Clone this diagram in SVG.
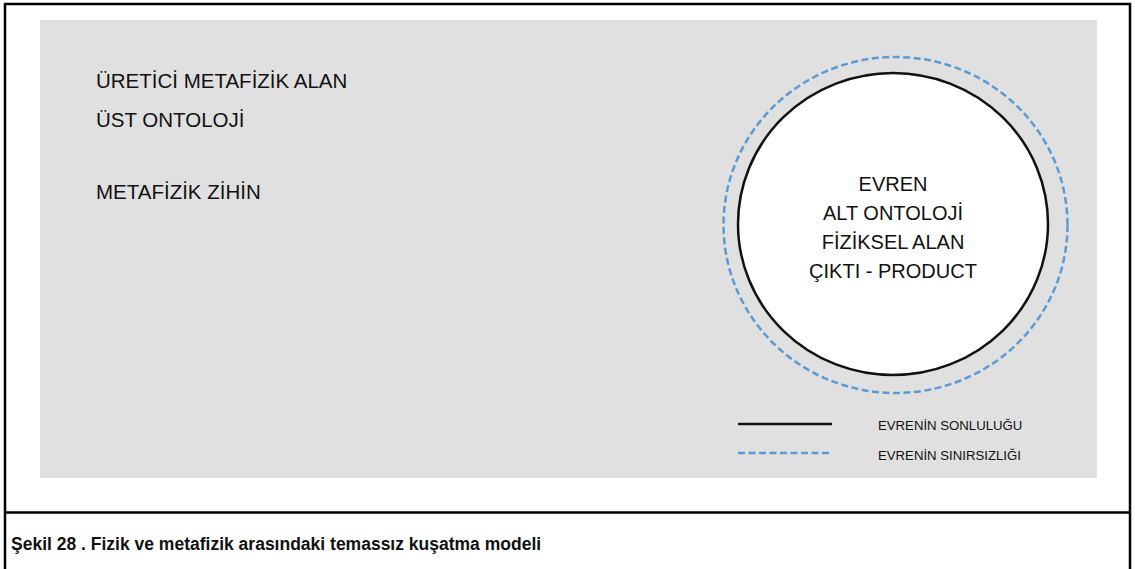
<svg xmlns="http://www.w3.org/2000/svg" width="1135" height="569" viewBox="0 0 1135 569">
  <style>
    .t { font-family: "Liberation Sans", Arial, sans-serif; fill: #111; }
    .big { font-size: 20.5px; }
    .mid { font-size: 20px; }
    .leg { font-size: 13.2px; }
    .cap { font-size: 17.5px; font-weight: bold; }
    .solid { fill: none; stroke: #111; stroke-width: 2.5; }
    .dash { fill: none; stroke: #5b9bd5; stroke-width: 2.5; stroke-dasharray: 7 3.5; }
  </style>
  <rect x="0" y="0" width="1135" height="569" fill="#ffffff"/>
  <g id="frame">
    <rect x="5" y="4" width="1125" height="570" fill="none" stroke="#000" stroke-width="2.5"/>
    <line x1="5" y1="512.5" x2="1130" y2="512.5" stroke="#000" stroke-width="2.5"/>
  </g>
  <g id="panel">
    <rect x="40" y="20" width="1057" height="458" fill="#e0e0e0"/>
  </g>
  <g id="metaphysical-field">
    <text class="t big" x="96" y="88">ÜRETİCİ METAFİZİK ALAN</text>
    <text class="t big" x="96" y="127">ÜST ONTOLOJİ</text>
    <text class="t big" x="96" y="199">METAFİZİK ZİHİN</text>
  </g>
  <g id="universe-boundless">
    <ellipse class="dash" cx="895.5" cy="225" rx="172" ry="168"/>
  </g>
  <g id="universe">
    <ellipse class="solid" cx="893" cy="224" rx="155" ry="151" style="fill:#ffffff"/>
    <text class="t mid" x="893" y="191" text-anchor="middle">EVREN</text>
    <text class="t mid" x="893" y="220" text-anchor="middle">ALT ONTOLOJİ</text>
    <text class="t mid" x="893" y="249" text-anchor="middle">FİZİKSEL ALAN</text>
    <text class="t mid" x="893" y="278" text-anchor="middle">ÇIKTI - PRODUCT</text>
  </g>
  <g id="legend">
    <line class="solid" x1="738" y1="424" x2="832" y2="424"/>
    <text class="t leg" x="878" y="430">EVRENİN SONLULUĞU</text>
    <line class="dash" x1="738" y1="453" x2="832" y2="453"/>
    <text class="t leg" x="878" y="460">EVRENİN SINIRSIZLIĞI</text>
  </g>
  <g id="caption">
    <text class="t cap" x="11" y="550">Şekil 28 . Fizik ve metafizik arasındaki temassız kuşatma modeli</text>
  </g>
</svg>
